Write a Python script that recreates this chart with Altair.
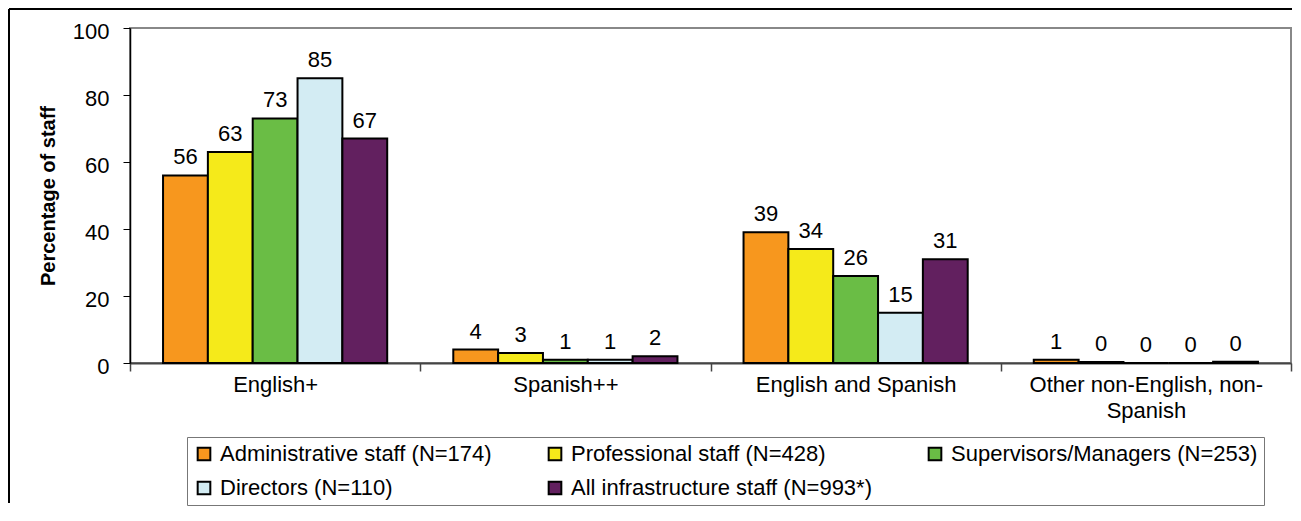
import altair as alt
import pandas as pd

categories = ["English+", "Spanish++", "English and Spanish", "Other non-English, non-Spanish"]
groups = [
    "Administrative staff (N=174)",
    "Professional staff (N=428)",
    "Supervisors/Managers (N=253)",
    "Directors (N=110)",
    "All infrastructure staff (N=993*)",
]
admin = [56, 4, 39, 1]
professional = [63, 3, 34, 0.3]
supervisors = [73, 1, 26, 0]
directors = [85, 1, 15, 0]
all_staff = [67, 2, 31, 0.4]
colors = ["#F7971E", "#F5EA1A", "#6ABD45", "#D3ECF3", "#62205F"]

series = [admin, professional, supervisors, directors, all_staff]
rows = []
for g, vals in zip(groups, series):
    for c, v in zip(categories, vals):
        rows.append({"category": c, "group": g, "value": v})
df = pd.DataFrame(rows)

W, H = 1161, 335
FONT = "Liberation Sans"
FS = 22

x_enc = alt.X(
    "category:N",
    sort=categories,
    scale=alt.Scale(paddingInner=0, paddingOuter=0),
    axis=alt.Axis(
        title=None,
        tickBand="extent",
        tickSize=8,
        tickColor="#444444",
        tickWidth=1.5,
        domainColor="#444444",
        domainWidth=2,
        labelFontSize=FS,
        labelAngle=0,
        labelPadding=3,
        labelLimit=500,
        labelColor="black",
        labelFont=FONT,
        labelLineHeight=26,
        labelExpr="datum.value == 'Other non-English, non-Spanish' ? ['Other non-English, non-', 'Spanish'] : datum.label",
    ),
)
xoff_enc = alt.XOffset(
    "group:N",
    sort=groups,
    scale=alt.Scale(paddingOuter=0.737, paddingInner=0),
)
y_enc = alt.Y(
    "value:Q",
    scale=alt.Scale(domain=[0, 100], nice=False),
    axis=alt.Axis(
        values=[0, 20, 40, 60, 80, 100],
        grid=False,
        tickSize=7,
        tickColor="black",
        domainColor="black",
        domainWidth=1.5,
        labelFontSize=FS,
        labelFont=FONT,
        labelColor="black",
        labelPadding=14,
        labelOffset=3,
        title="Percentage of staff",
        titleFont=FONT,
        titleFontSize=20,
        titleFontWeight="bold",
        titleColor="black",
        titlePadding=14,
    ),
)

base = alt.Chart(df)

bars = base.mark_bar(stroke="black", strokeWidth=2).encode(
    x=x_enc,
    xOffset=xoff_enc,
    y=y_enc,
    color=alt.Color(
        "group:N",
        sort=groups,
        scale=alt.Scale(domain=groups, range=colors),
        legend=alt.Legend(
            title=None,
            orient="none",
            legendX=57,
            legendY=409,
            direction="horizontal",
            columns=3,
            gridAlign="each",
            columnPadding=52,
            rowPadding=12,
            padding=6,
            strokeColor="#777777",
            symbolType="square",
            symbolSize=160,
            symbolStrokeColor="black",
            symbolStrokeWidth=2,
            symbolOpacity=1,
            labelFontSize=FS,
            labelFont=FONT,
            labelColor="black",
            labelLimit=500,
            labelOffset=5,
        ),
    ),
)

labels = base.mark_text(
    dy=-11, baseline="alphabetic", fontSize=FS, font=FONT, color="black"
).encode(
    x=alt.X("category:N", sort=categories),
    xOffset=alt.XOffset("group:N", sort=groups),
    y=alt.Y("value:Q"),
    text=alt.Text("value:Q", format=".0f"),
)

frame_df = pd.DataFrame({"k": [0]})
frame_left = alt.Chart(frame_df).mark_rule(color="black", strokeWidth=2).encode(
    x=alt.value(-121), y=alt.value(-19), y2=alt.value(H + 140)
)
frame_top = alt.Chart(frame_df).mark_rule(color="black", strokeWidth=2).encode(
    x=alt.value(-121), x2=alt.value(W + 1), y=alt.value(-19)
)

chart = (
    alt.layer(bars, labels, frame_left, frame_top)
    .properties(width=W, height=H, padding=0)
    .configure(font=FONT)
    .configure_view(stroke="#888888", strokeWidth=2)
)

chart.save("out.html", embed_options={"renderer": "svg", "actions": False})
